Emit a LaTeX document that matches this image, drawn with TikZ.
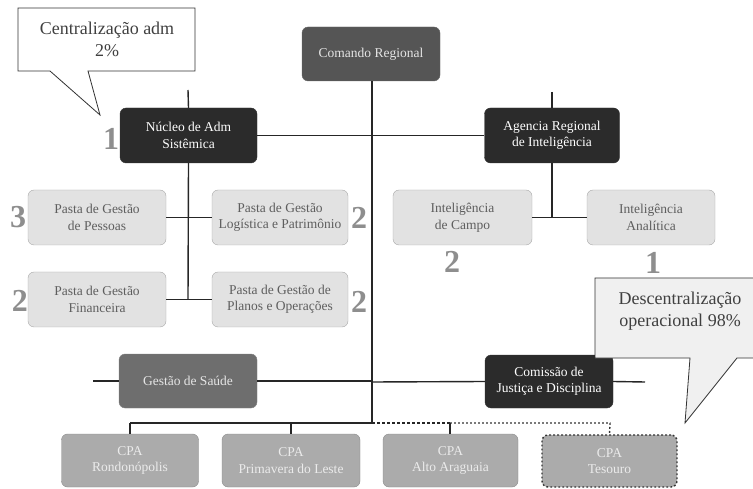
\documentclass[tikz,border=0pt]{standalone}
\usepackage{fontspec}
\setmainfont{Liberation Serif}
\usetikzlibrary{calc}
\definecolor{darkbox}{HTML}{2B2B2B}
\definecolor{cmdbox}{HTML}{555555}
\definecolor{midbox}{HTML}{6E6E6E}
\definecolor{lightbox}{HTML}{E2E2E2}
\definecolor{lightedge}{HTML}{A8A8A8}
\definecolor{cpabox}{HTML}{ABABAB}
\definecolor{cpaedge}{HTML}{8A8A8A}
\definecolor{lighttext}{HTML}{5E5E5E}
\definecolor{wire}{HTML}{262626}
\definecolor{numcol}{HTML}{8E8E8E}
\begin{document}
\begin{tikzpicture}[x=1pt,y=-1pt,
  box/.style={rounded corners=6pt, align=center, inner sep=2pt,
    font=\fontsize{13.5}{16.5}\selectfont},
  darknode/.style={box, fill=darkbox, draw=black!80, text=white},
  cmdnode/.style={box, fill=cmdbox, draw=black!60, text=white!90!black},
  midnode/.style={box, fill=midbox, draw=black!50, text=white!90!black},
  lightnode/.style={box, fill=lightbox, draw=lightedge, text=lighttext},
  cpanode/.style={box, fill=cpabox, draw=cpaedge, text=white!92!black},
  wireline/.style={draw=wire, line width=1.4pt},
  dotline/.style={dash pattern=on 1.8pt off 2.2pt},
  numlbl/.style={font=\fontsize{32}{32}\selectfont\bfseries, text=numcol, inner sep=0pt},
  callout/.style={draw=black!80, line width=0.8pt, line join=miter},
  callouttext/.style={font=\fontsize{18}{22}\selectfont, text=black!75, align=center}
]
\useasboundingbox (0,0) rectangle (753,489);

% boxes
\node[cmdnode, minimum width=138pt, minimum height=54pt] (cmd) at (371,54) {Comando Regional};
\node[darknode, minimum width=137pt, minimum height=55pt] (nuc) at (188.5,135.5) {Núcleo de Adm\\Sistêmica};
\node[darknode, minimum width=135pt, minimum height=55pt] (agi) at (552,135.5) {Agencia Regional\\de Inteligência};
\node[lightnode, minimum width=138pt, minimum height=55pt] (pes) at (97,217.5) {Pasta de Gestão\\de Pessoas};
\node[lightnode, minimum width=136pt, minimum height=55pt] (log) at (280,217.5) {Pasta de Gestão\\Logística e Patrimônio};
\node[lightnode, minimum width=138pt, minimum height=55pt] (fin) at (97,299.5) {Pasta de Gestão\\Financeira};
\node[lightnode, minimum width=136pt, minimum height=55pt] (pla) at (280,299.5) {Pasta de Gestão de\\Planos e Operações};
\node[lightnode, minimum width=139pt, minimum height=55pt] (cam) at (462.5,217.5) {Inteligência\\de Campo};
\node[lightnode, minimum width=128pt, minimum height=55pt] (ana) at (651,217.5) {Inteligência\\Analítica};
\node[midnode, minimum width=138pt, minimum height=54pt] (sau) at (188,381) {Gestão de Saúde};
\node[darknode, minimum width=128pt, minimum height=53pt] (com) at (549,381.5) {Comissão de\\Justiça e Disciplina};
\node[cpanode, minimum width=137pt, minimum height=53pt] (cpa1) at (130,460.5) {CPA\\Rondonópolis};
\node[cpanode, minimum width=138pt, minimum height=53pt] (cpa2) at (291,460.5) {CPA\\Primavera do Leste};
\node[cpanode, minimum width=135pt, minimum height=53pt] (cpa3) at (450.5,460.5) {CPA\\Alto Araguaia};
\node[cpanode, dotline, line width=1.4pt, draw=black!80, minimum width=135pt, minimum height=52pt] (cpa4) at (609.5,461) {CPA\\Tesouro};

% coordinates
\coordinate (busM) at (372,423);
\coordinate (busL) at (130,423);
\coordinate (busD) at (450,423);
\coordinate (busR) at (610,423);
\coordinate (nucT) at (188,90);
\coordinate (agiT) at (552,92);
\coordinate (nucB) at (188,299.5);
\coordinate (agiB) at (552,217.5);
\coordinate (sauL) at (93,381);
\coordinate (sauR) at (372,381);
\coordinate (comL) at (372,382);
\coordinate (comR) at (645,382);

% connectors
\draw[wireline] (cmd.south -| busM) -- (busM);
\draw[wireline] (nucT) -- (nuc.north);
\draw[wireline] (agiT) -- (agi.north);
\draw[wireline] (nuc.east) -- (agi.west);
\draw[wireline] (nuc.south) -- (nucB);
\draw[wireline] (pes.east) -- (log.west);
\draw[wireline] (fin.east) -- (pla.west);
\draw[wireline] (agi.south) -- (agiB);
\draw[wireline] (cam.east) -- (ana.west);
\draw[wireline] (sauL) -- (sau.west);
\draw[wireline] (sau.east) -- (sauR);
\draw[wireline] (comL) -- (com.west);
\draw[wireline] (com.east) -- (comR);
\draw[wireline] (busL) -- (busM);
\draw[wireline, densely dashed] (busM) -- (busD);
\draw[wireline, dotline, draw=black!80] (busD) -- (busR) to[out=-90,in=90] (cpa4.north);
\draw[wireline] (busL) -- (cpa1.north);
\draw[wireline] (cpa2.north |- busL) -- (cpa2.north);
\draw[wireline] (busD) -- (cpa3.north -| busD);

% callouts
\fill[white] (18,8) -- (195,8) -- (195,71) -- (88,71) -- (100,115) -- (50,71) -- (18,71) -- cycle;
\draw[callout] (18,8) -- (195,8) -- (195,71) -- (88,71) -- (100,115) -- (50,71) -- (18,71) -- cycle;
\node[callouttext] (c1) at (107,39) {Centralização adm\\2\%};

\fill[black!6] (595,278) -- (760,278) -- (760,358) -- (737,358) -- (685,423) -- (690,358) -- (595,358) -- cycle;
\draw[callout] (760,278) -- (595,278) -- (595,358) -- (690,358) -- (685,423) -- (737,358) -- (760,358);
\node[callouttext] (c2) at (680,311) {Descentralização\\operacional 98\%};

% numbers
\node[numlbl] (n1) at (111,139) {1};
\node[numlbl] (n2) at (18,217) {3};
\node[numlbl] (n3) at (359,218) {2};
\node[numlbl] (n4) at (20,301) {2};
\node[numlbl] (n5) at (359,302) {2};
\node[numlbl] (n6) at (452,262) {2};
\node[numlbl] (n7) at (653,263) {1};
\end{tikzpicture}
\end{document}
